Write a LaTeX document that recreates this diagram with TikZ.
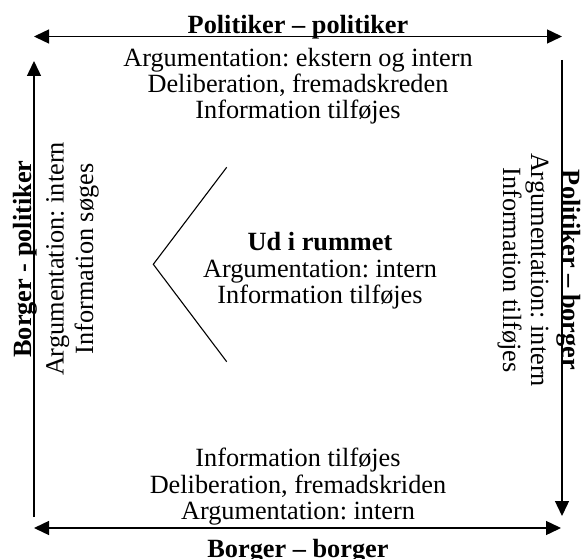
\documentclass[tikz,border=0pt]{standalone}
\usepackage{fontspec}
\setmainfont{Liberation Serif}
\usetikzlibrary{arrows.meta}
\frenchspacing
\begin{document}
\begin{tikzpicture}[x=1pt,y=1pt,
  txt/.style={inner sep=0pt,outer sep=0pt,anchor=base,font=\fontsize{26.3}{26.3}\selectfont},
  btxt/.style={txt,font=\fontsize{26.3}{26.3}\selectfont\bfseries},
  arr/.style={line width=1.4pt,-{Triangle[length=15pt,width=14pt]}},
  darr/.style={line width=1.4pt,{Triangle[length=15pt,width=14pt]}-{Triangle[length=15pt,width=14pt]}},
  chev/.style={line width=1.1pt}]
\useasboundingbox (0,0) rectangle (581,558);
% arrow end points
\coordinate (tl) at (34,521.5);
\coordinate (tr) at (562,521.5);
\coordinate (bl) at (34,30);
\coordinate (br) at (561,30);
\coordinate (lb) at (34,41);
\coordinate (lt) at (34,497);
\coordinate (rt) at (562,498);
\coordinate (rb) at (562,42);
\draw[darr] (tl) -- (tr);
\draw[darr] (bl) -- (br);
\draw[arr] (lb) -- (lt);
\draw[arr] (rt) -- (rb);
% chevron
\coordinate (c1) at (226.7,390.7);
\coordinate (c2) at (153.3,293.7);
\coordinate (c3) at (226.7,196.3);
\draw[chev] (c1) -- (c2) -- (c3);
% top
\node[btxt] (tt) at (298,524) {Politiker – politiker};
\node[txt] (t1) at (298,491) {Argumentation: ekstern og intern};
\node[txt] (t2) at (298,465) {Deliberation, fremadskreden};
\node[txt] (t3) at (298,439) {Information tilføjes};
% bottom
\node[txt] (b1) at (298,92) {Information tilføjes};
\node[txt] (b2) at (298,65) {Deliberation, fremadskriden};
\node[txt] (b3) at (298,39) {Argumentation: intern};
\node[btxt] (bb) at (298,0.8) {Borger – borger};
% centre
\node[btxt] (m0) at (320,308) {Ud i rummet};
\node[txt] (m1) at (320,281) {Argumentation: intern};
\node[txt] (m2) at (320,255) {Information tilføjes};
% left
\node[btxt,rotate=90] (l0) at (31.7,299) {Borger - politiker};
\node[txt,rotate=90] (l1) at (63.5,299) {Argumentation: intern};
\node[txt,rotate=90] (l2) at (93,299) {Information søges};
% right
\node[btxt,rotate=-90] (r0) at (562.7,288) {Politiker – borger};
\node[txt,rotate=-90] (r1) at (531,288) {Argumentation: intern};
\node[txt,rotate=-90] (r2) at (503,288) {Information tilføjes};
\end{tikzpicture}
\end{document}
